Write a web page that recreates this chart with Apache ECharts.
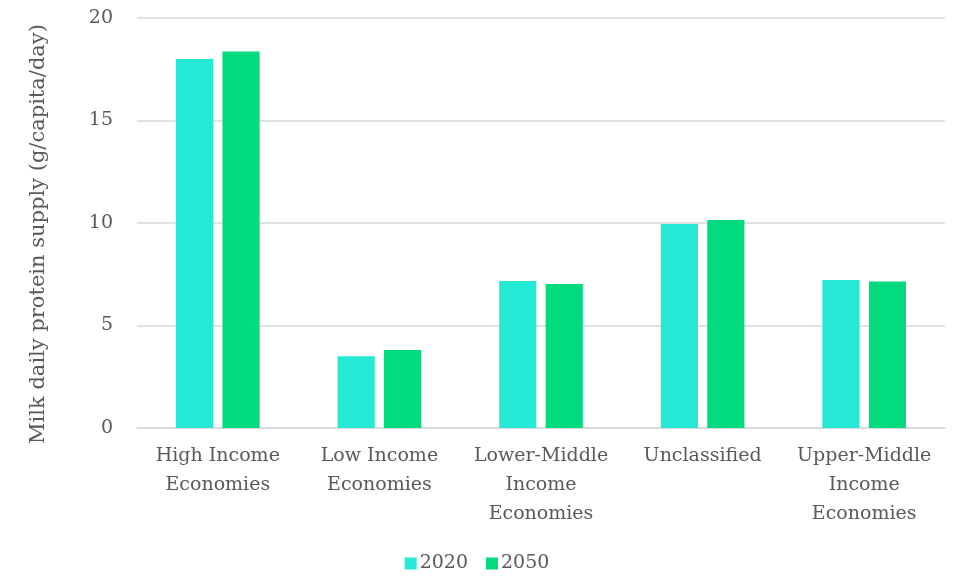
<!DOCTYPE html>
<html><head><meta charset="utf-8">
<script src="https://cdn.jsdelivr.net/npm/echarts@6/dist/echarts.min.js"></script>
<style>html,body{margin:0;padding:0;background:#fff}#c{width:954px;height:578px}</style>
</head><body><div id="c"></div>
<script>
const categories = ["High Income\nEconomies", "Low Income\nEconomies", "Lower-Middle\nIncome\nEconomies", "Unclassified", "Upper-Middle\nIncome\nEconomies"];
const values2020 = [18.0, 3.5, 7.17, 9.95, 7.22];
const values2050 = [18.37, 3.8, 7.02, 10.15, 7.15];
const seriesNames = ["2020", "2050"];
const yName = "Milk daily protein supply (g/capita/day)";
const FONT = "DejaVu Serif";
const chart = echarts.init(document.getElementById('c'), null, {renderer: 'canvas'});
chart.setOption({
  animation: false,
  textStyle: {fontFamily: FONT},
  grid: {left: 137, right: 9, top: 18, bottom: 150},
  legend: {
    bottom: 0, left: 'center', itemWidth: 12, itemHeight: 12, itemGap: 18,
    icon: 'rect',
    textStyle: {fontFamily: FONT, fontSize: 19, color: '#595959', padding: [0,0,0,-2]},
    data: seriesNames
  },
  xAxis: {
    type: 'category', data: categories,
    axisLine: {lineStyle: {color: '#d9d9d9', width: 1.5}},
    axisTick: {show: false},
    axisLabel: {fontFamily: FONT, fontSize: 19, color: '#595959', lineHeight: 29, margin: 14, interval: 0}
  },
  yAxis: {
    type: 'value', min: 0, max: 20, interval: 5,
    name: yName, nameLocation: 'middle', nameGap: 88, nameRotate: 90,
    nameTextStyle: {fontFamily: FONT, fontSize: 21, color: '#595959', padding: [0, 0, 0, -22]},
    axisLine: {show: false}, axisTick: {show: false},
    axisLabel: {fontFamily: FONT, fontSize: 19, color: '#595959', margin: 24},
    splitLine: {lineStyle: {color: '#d9d9d9', width: 1.5}}
  },
  series: [
    {name: seriesNames[0], type: 'bar', data: values2020, barWidth: '23%', barGap: '25%',
     itemStyle: {color: '#25E8D5'}},
    {name: seriesNames[1], type: 'bar', data: values2050, barWidth: '23%', barGap: '25%',
     itemStyle: {color: '#02DA7E'}}
  ]
});
</script></body></html>
